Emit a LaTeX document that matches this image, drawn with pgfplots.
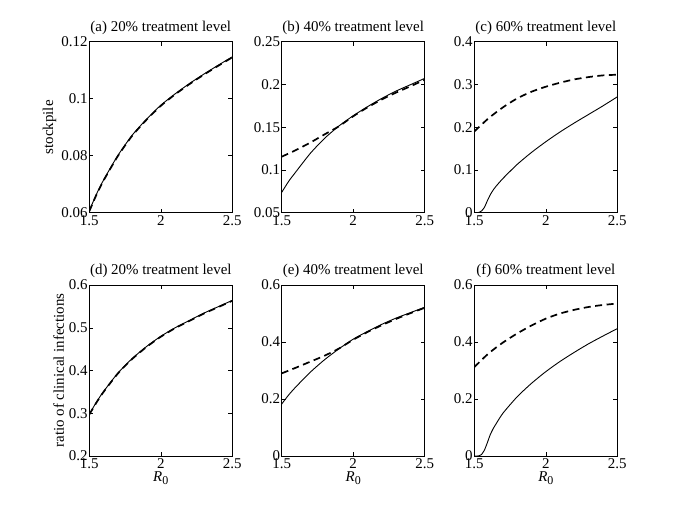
\documentclass[border=0pt]{standalone}
\usepackage{pgfplots}
\pgfplotsset{compat=1.18}
\usepackage{fontspec}
\setmainfont{Liberation Serif}

\pgfplotsset{
  panel/.style={
    scale only axis,
    width=143bp, height=171bp,
    anchor=south west,
    xmin=1.5, xmax=2.5,
    xtick={1.5,2,2.5},
    tick align=inside,
    major tick length=4bp,
    axis line style={line width=0.6bp},
    every tick/.style={line width=0.5bp, black},
    scaled y ticks=false,
    /pgf/number format/assume math mode=true,
    /pgf/number format/fixed,
    /pgf/number format/precision=2,
    every tick label/.append style={inner sep=1.5bp},
    xticklabel style={yshift=-1bp},
    title style={yshift=-2bp},
    xlabel style={yshift=2bp},
  },
  solidc/.style={black, line width=0.9bp, smooth, tension=0.4, no marks},
  dashc/.style={black, line width=1.7bp, dash pattern=on 7bp off 4.5bp, smooth, tension=0.4, no marks},
}

\begin{document}
\begin{tikzpicture}[font=\fontsize{15}{18}\selectfont]
\useasboundingbox (0,0) rectangle (685bp,514bp);

% (a)
\begin{axis}[panel, at={(89.3bp,301.3bp)},
  ymin=0.06, ymax=0.12, ytick={0.06,0.08,0.1,0.12},
  title={(a) 20\% treatment level}, ylabel={stockpile}]
\addplot[solidc] coordinates {(1.5,0.0607)(1.55,0.0665)(1.6,0.0715)(1.7,0.0801)(1.8,0.0872)(1.9,0.0928)(2.0,0.0977)(2.1,0.1017)(2.2,0.1053)(2.3,0.1086)(2.4,0.1117)(2.5,0.1147)};
\addplot[dashc] coordinates {(1.5,0.0605)(1.55,0.0663)(1.6,0.0713)(1.7,0.0799)(1.8,0.0870)(1.9,0.0926)(2.0,0.0975)(2.1,0.1015)(2.2,0.1051)(2.3,0.1084)(2.4,0.1115)(2.5,0.1145)};
\end{axis}

% (b)
\begin{axis}[panel, at={(281.7bp,301.3bp)},
  ymin=0.05, ymax=0.25, ytick={0.05,0.1,0.15,0.2,0.25},
  title={(b) 40\% treatment level}]
\addplot[solidc] coordinates {(1.5,0.0738)(1.55,0.087)(1.6,0.098)(1.7,0.1194)(1.8,0.137)(1.9,0.1514)(2.0,0.1634)(2.1,0.174)(2.2,0.1837)(2.3,0.1923)(2.4,0.1997)(2.5,0.2071)};
\addplot[dashc] coordinates {(1.5,0.1155)(1.6,0.1233)(1.7,0.132)(1.8,0.1416)(1.9,0.151)(2.0,0.1628)(2.1,0.1732)(2.2,0.1824)(2.3,0.1905)(2.4,0.1978)(2.5,0.2055)};
\end{axis}

% (c)
\begin{axis}[panel, at={(474.3bp,301.3bp)},
  ymin=0, ymax=0.4, ytick={0,0.1,0.2,0.3,0.4},
  title={(c) 60\% treatment level}]
\addplot[solidc] coordinates {(1.5,0)(1.52,0)(1.535,0.001)(1.55,0.004)(1.57,0.012)(1.59,0.027)(1.61,0.041)(1.63,0.052)(1.65,0.061)(1.7,0.08)(1.8,0.113)(1.9,0.141)(2.0,0.166)(2.1,0.189)(2.2,0.21)(2.3,0.23)(2.4,0.25)(2.5,0.271)};
\addplot[dashc] coordinates {(1.5,0.19)(1.6,0.221)(1.7,0.2464)(1.8,0.2674)(1.9,0.283)(2.0,0.2947)(2.1,0.3041)(2.2,0.3119)(2.3,0.3173)(2.4,0.3212)(2.5,0.3228)};
\end{axis}

% (d)
\begin{axis}[panel, at={(89.3bp,58bp)},
  ymin=0.2, ymax=0.6, ytick={0.2,0.3,0.4,0.5,0.6},
  title={(d) 20\% treatment level}, ylabel={ratio of clinical infections},
  xlabel={\textit{R}\raisebox{-0.35ex}{\fontsize{12}{12}\selectfont 0}}]
\addplot[solidc] coordinates {(1.5,0.298)(1.55,0.326)(1.6,0.351)(1.7,0.394)(1.8,0.428)(1.9,0.456)(2.0,0.48)(2.1,0.5)(2.2,0.517)(2.3,0.534)(2.4,0.549)(2.5,0.564)};
\addplot[dashc] coordinates {(1.5,0.297)(1.55,0.325)(1.6,0.350)(1.7,0.393)(1.8,0.427)(1.9,0.455)(2.0,0.479)(2.1,0.499)(2.2,0.516)(2.3,0.533)(2.4,0.548)(2.5,0.563)};
\end{axis}

% (e)
\begin{axis}[panel, at={(281.7bp,58bp)},
  ymin=0, ymax=0.6, ytick={0,0.2,0.4,0.6},
  title={(e) 40\% treatment level},
  xlabel={\textit{R}\raisebox{-0.35ex}{\fontsize{12}{12}\selectfont 0}}]
\addplot[solidc] coordinates {(1.5,0.1825)(1.55,0.215)(1.6,0.243)(1.7,0.294)(1.8,0.338)(1.9,0.376)(2.0,0.41)(2.1,0.437)(2.2,0.462)(2.3,0.484)(2.4,0.503)(2.5,0.522)};
\addplot[dashc] coordinates {(1.5,0.29)(1.6,0.31)(1.7,0.331)(1.8,0.352)(1.9,0.377)(2.0,0.408)(2.1,0.435)(2.2,0.459)(2.3,0.481)(2.4,0.501)(2.5,0.52)};
\end{axis}

% (f)
\begin{axis}[panel, at={(474.3bp,58bp)},
  ymin=0, ymax=0.6, ytick={0,0.2,0.4,0.6},
  title={(f) 60\% treatment level},
  xlabel={\textit{R}\raisebox{-0.35ex}{\fontsize{12}{12}\selectfont 0}}]
\addplot[solidc] coordinates {(1.5,0)(1.52,0)(1.535,0.001)(1.55,0.005)(1.57,0.02)(1.59,0.045)(1.61,0.073)(1.63,0.094)(1.65,0.111)(1.7,0.15)(1.8,0.208)(1.9,0.255)(2.0,0.296)(2.1,0.332)(2.2,0.364)(2.3,0.394)(2.4,0.421)(2.5,0.447)};
\addplot[dashc] coordinates {(1.5,0.312)(1.6,0.36)(1.7,0.398)(1.8,0.43)(1.9,0.458)(2.0,0.482)(2.1,0.5)(2.2,0.513)(2.3,0.523)(2.4,0.53)(2.5,0.535)};
\end{axis}
\end{tikzpicture}
\end{document}
